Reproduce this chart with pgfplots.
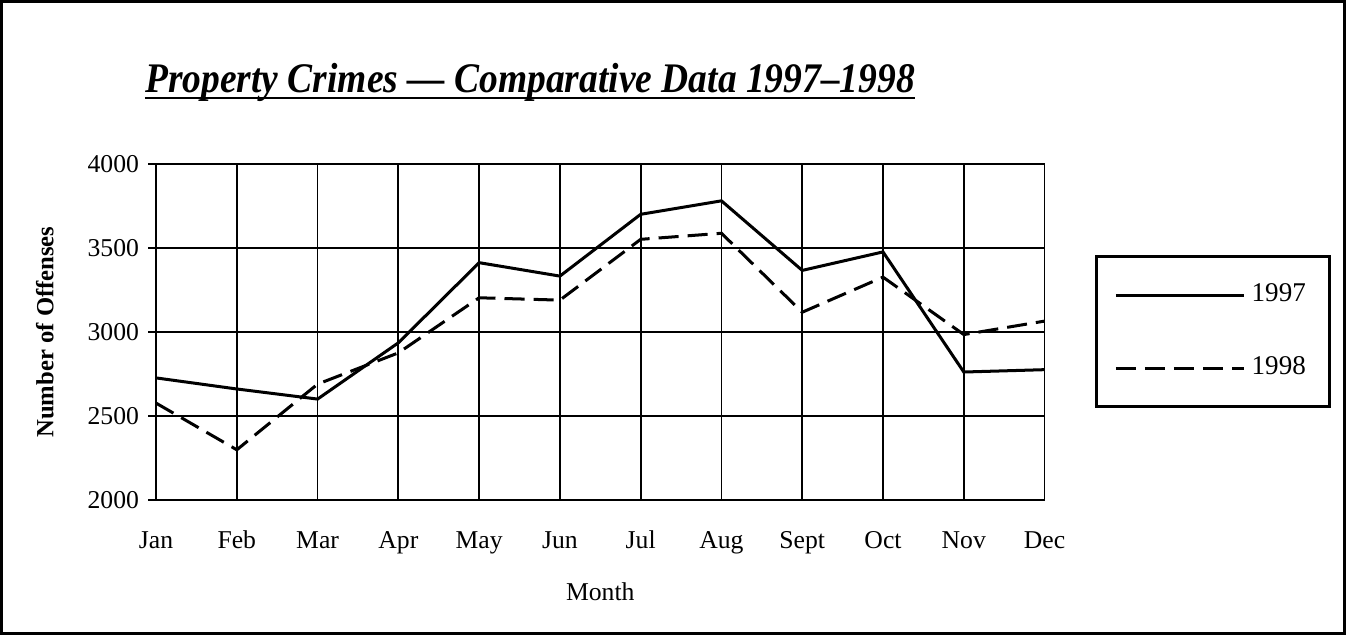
\documentclass[border=0pt]{standalone}
\usepackage{pgfplots}
\pgfplotsset{compat=1.18}
\usepackage{fontspec}
\setmainfont{Liberation Serif}

\pgfplotstableread{
x y
0 2727
1 2661
2 2601
3 2936
4 3413
5 3333
6 3701
7 3781
8 3367
9 3477
10 2762
11 2776
}\dataA
\pgfplotstableread{
x y
0 2577
1 2299
2 2690
3 2876
4 3204
5 3190
6 3552
7 3588
8 3118
9 3327
10 2985
11 3065
}\dataB

\begin{document}
\begin{tikzpicture}
\draw[line width=1.6pt] (-77pt,-66.5pt) rectangle (592.5pt,248.5pt);
\begin{axis}[
  at={(0pt,0pt)}, anchor=south west,
  scale only axis,
  width=443pt, height=167.5pt,
  xmin=0, xmax=11, ymin=2000, ymax=4000,
  xtick={0,...,11},
  xticklabels={Jan,Feb,Mar,Apr,May,Jun,Jul,Aug,Sept,Oct,Nov,Dec},
  ytick={2000,2500,3000,3500,4000},
  ytick pos=left,
  grid=major,
  major grid style={black, line width=0.9pt},
  axis line style={black, line width=0.9pt},
  tick style={black, line width=0.9pt},
  ytick align=outside, xtick align=outside,
  major tick length=4pt,
  xtick style={draw=none},
  /pgf/number format/assume math mode=true,
  /pgf/number format/set thousands separator={},
  tick label style={font=\fontsize{12.8}{14}\selectfont},
  yticklabel style={xshift=-1pt},
  xticklabel style={anchor=base, text height=9pt, text depth=3pt, yshift=-20pt},
  xlabel={Month},
  xlabel style={font=\fontsize{12.8}{14}\selectfont, at={(rel axis cs:0.5,0)}, anchor=base, yshift=-50pt},
  ylabel={\textbf{Number of Offenses}},
  ylabel style={font=\fontsize{12.3}{14}\selectfont, yshift=10pt},
  clip=false,
  legend style={at={(1.0565,0.728)}, anchor=north west, draw=black, line width=1.5pt,
    inner xsep=9pt, inner ysep=10pt,
    font=\fontsize{13.5}{15}\selectfont, row sep=18.5pt,
    nodes={line width=0.4pt, inner sep=3pt, text height=9pt, text depth=3pt}},
  legend cell align=left,
  legend image code/.code={\draw[#1] (0pt,0pt) -- (64pt,0pt);},
]
\addplot[black, line width=1.5pt] table[x=x,y=y] {\dataA};
\addlegendentry{1997}
\addplot[black, line width=1.5pt, dash pattern=on 10pt off 4.5pt] table[x=x,y=y] {\dataB};
\addlegendentry{1998}
\node[anchor=base, inner sep=0pt, font=\fontsize{21}{24}\selectfont\bfseries\itshape] (t) at (rel axis cs:0.421,1.214) {\scalebox{0.89}[1]{Property Crimes --- Comparative Data 1997--1998}};
\draw[line width=1.3pt] ([yshift=-3pt]t.base west) -- ([yshift=-3pt]t.base east);
\end{axis}
\end{tikzpicture}
\end{document}
